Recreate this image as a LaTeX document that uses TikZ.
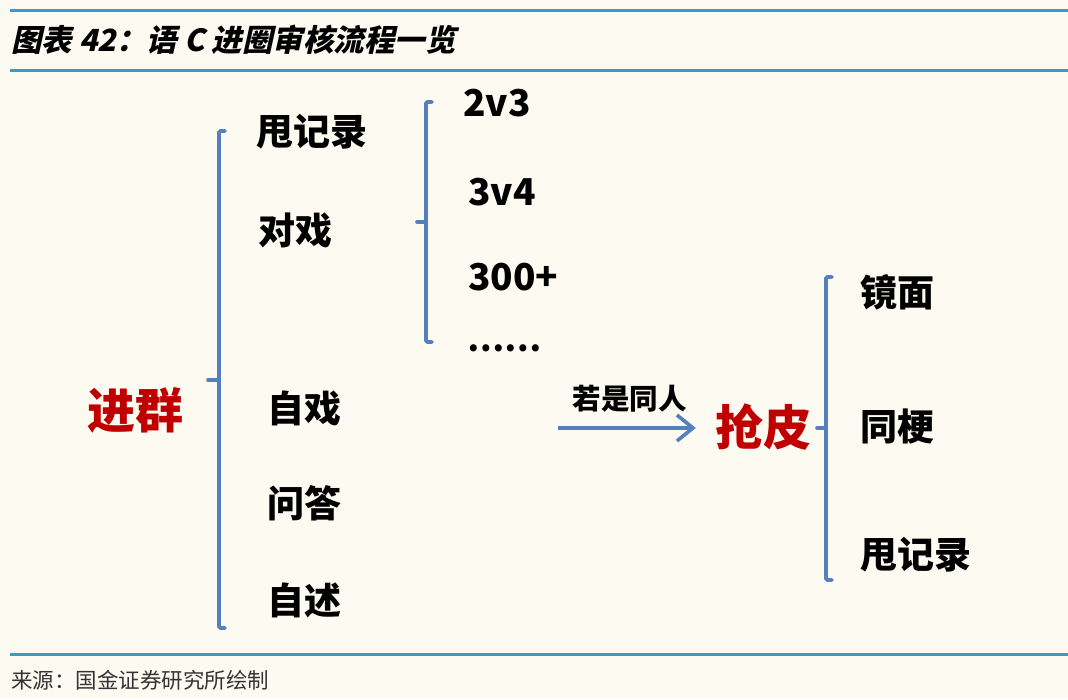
\documentclass[tikz,border=0pt]{standalone}
\usepackage{fontspec}
\newfontfamily\cjk{Noto Sans CJK SC}
\newfontfamily\cjkslant{Noto Sans CJK SC}[FakeSlant=0.22]
\usetikzlibrary{arrows.meta}
\definecolor{bg}{HTML}{FDFBF1}
\definecolor{rule}{HTML}{3A9BCB}
\definecolor{brace}{HTML}{5580BE}
\definecolor{redt}{HTML}{C00000}
\definecolor{foot}{HTML}{333333}
\tikzset{
  item/.style={anchor=west, inner sep=0pt, font=\cjk\bfseries\fontsize{37}{40}\selectfont},
  big/.style={anchor=center, inner sep=0pt, text=redt, font=\cjk\bfseries\fontsize{48}{50}\selectfont},
  brc/.style={draw=brace, line width=3.6pt, line cap=round, rounded corners=1.5pt},
  hr/.style={draw=rule, line width=3pt},
}
\begin{document}
\begin{tikzpicture}[x=1pt,y=-1pt]
\fill[bg] (0,0) rectangle (1068,699);
\useasboundingbox (0,0) rectangle (1068,699);
% rules
\coordinate (r1a) at (10,10); \coordinate (r1b) at (1068,10);
\coordinate (r2a) at (10,70); \coordinate (r2b) at (1068,70);
\coordinate (r3a) at (10,654); \coordinate (r3b) at (1068,654);
\draw[hr] (r1a) -- (r1b);
\draw[hr] (r2a) -- (r2b);
\draw[hr] (r3a) -- (r3b);
% title
\node[anchor=west, inner sep=0pt, font=\cjkslant\bfseries\fontsize{30.5}{32}\selectfont] (title) at (11,40) {图表 42：语 C 进圈审核流程一览};
% footer
\node[anchor=west, inner sep=0pt, text=foot, font=\cjk\fontsize{21.5}{23}\selectfont] (src) at (11,680) {来源：国金证券研究所绘制};
% main
\node[big] (jq) at (135,410) {进群};
\node[item] (s1) at (256,132) {甩记录};
\node[item] (dx) at (258,230) {对戏};
\node[item] (zx) at (267,408) {自戏};
\node[item] (wd) at (267,503) {问答};
\node[item] (zs) at (267,600) {自述};
\node[item] (v1) at (463,103) {2v3};
\node[item] (v2) at (468,192) {3v4};
\node[item] (v3) at (468,277) {300+};
\node[item, font=\cjk\bfseries\fontsize{33}{36}\selectfont] (v4) at (467,348) {……};
\node[big] (qp) at (763,427) {抢皮};
\node[item] (jm) at (860,292) {镜面};
\node[item] (tg) at (860,427) {同梗};
\node[item] (s2) at (860,555) {甩记录};
% braces
\draw[brc] (225,131) -- (219,131) -- (219,628) -- (225,628);
\draw[brc] (208,380) -- (219,380);
\draw[brc] (432,102) -- (426,102) -- (426,342) -- (432,342);
\draw[brc] (417,222) -- (426,222);
\draw[brc] (832,277) -- (826,277) -- (826,580) -- (832,580);
\draw[brc] (817,428) -- (826,428);
% arrow
\coordinate (as) at (558,428);
\draw[draw=brace, line width=3.6pt, -{Straight Barb[length=16pt,width=26pt,line width=3.6pt]}] (as) -- ([xshift=-19pt]qp.west |- as) node[midway, above=14pt, inner sep=0pt, xshift=3pt, text=black, font=\cjk\bfseries\fontsize{28.5}{30}\selectfont] (lbl) {若是同人};
\end{tikzpicture}
\end{document}
